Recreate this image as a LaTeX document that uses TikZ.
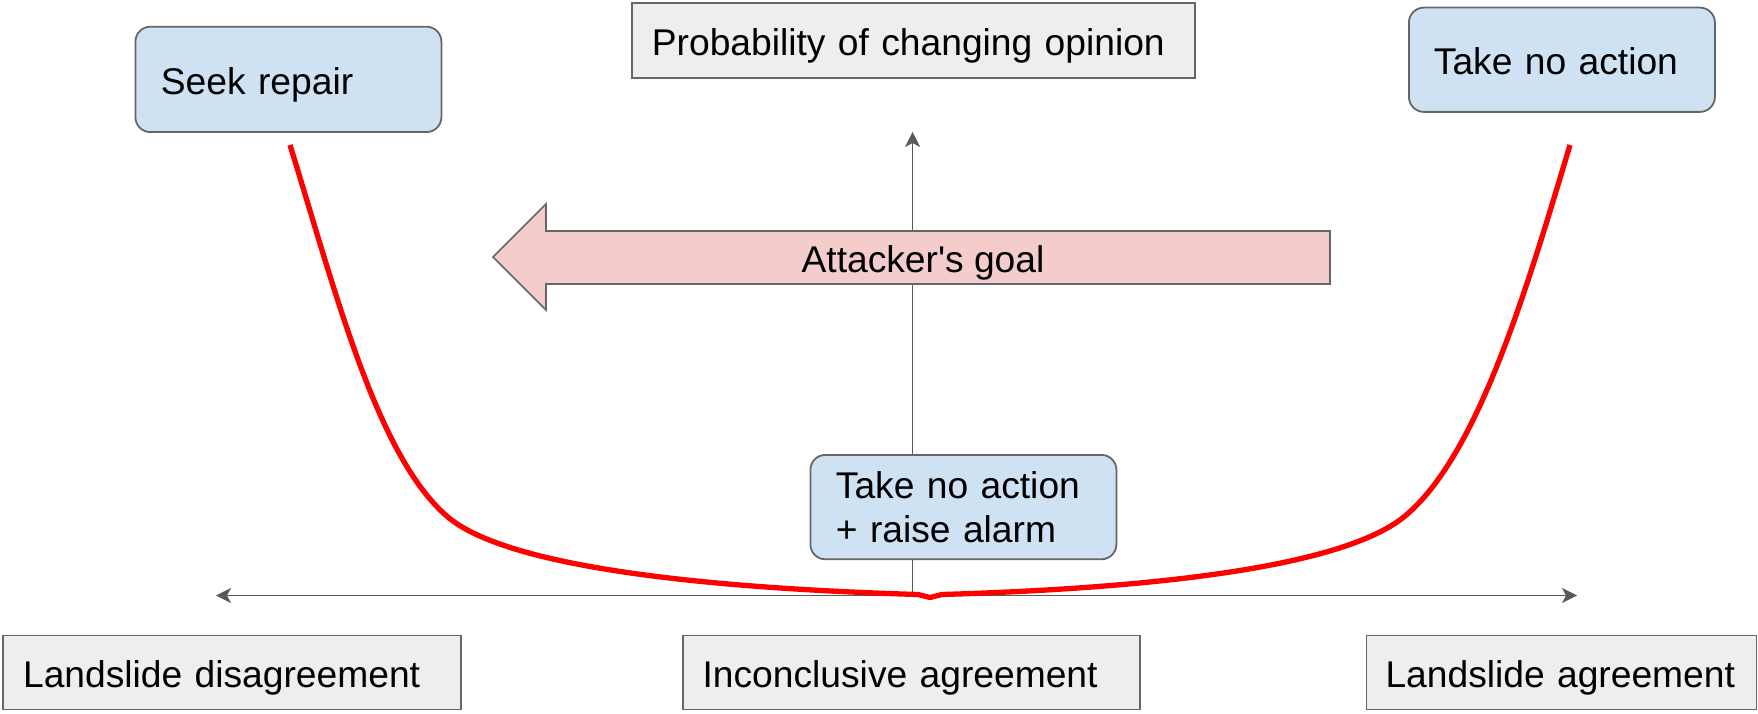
\documentclass[tikz,border=0pt]{standalone}
\usepackage{fontspec}
\newfontfamily\labelfont{Liberation Sans}[Ligatures=TeXOff]
\usetikzlibrary{arrows.meta}
\definecolor{choicefill}{HTML}{CFE2F3}
\definecolor{catfill}{HTML}{EEEEEE}
\definecolor{goalfill}{HTML}{F4CCCC}
\definecolor{edge}{HTML}{666666}
\definecolor{axiscol}{HTML}{595959}
\definecolor{curvecol}{HTML}{FF0000}
\tikzset{
  txt/.style={font=\labelfont\fontsize{37.2}{44}\selectfont, text=black},
  oneline/.style={text height=30pt, text depth=0pt},
  labelbox/.style={txt, draw=edge, line width=1.8pt, anchor=north west,
    align=left, inner ysep=0pt},
  choicebox/.style={labelbox, fill=choicefill, rounded corners=15pt},
  catbox/.style={labelbox, oneline, fill=catfill},
  axisline/.style={draw=axiscol, line width=1.6pt,
    >={Stealth[length=15pt, width=15pt, inset=4pt]}},
  goalarrow/.style={draw=edge, line width=1.6pt, fill=goalfill, line join=miter},
  curve/.style={draw=curvecol, line width=5.3pt, line join=round},
}
\begin{document}
\begin{tikzpicture}[x=1pt, y=-1pt]
\useasboundingbox (0,0) rectangle (1758,714);
\fill[white] (0,0) rectangle (1758,714);

% axes
\coordinate (xleft) at (216,595.5);
\coordinate (xright) at (1577,595.5);
\coordinate (origin) at (912.6,595.5);
\coordinate (ytop) at (912.6,132);
\draw[axisline, <->] (xleft) -- (xright);
\draw[axisline, ->] (origin) -- (ytop);

% attacker's goal arrow
\draw[goalarrow] (493,257) -- (546,204) -- (546,231) -- (1330,231)
  -- (1330,284) -- (546,284) -- (546,310) -- cycle;
\node[txt, oneline, inner sep=0pt] (goal) at (923,257.5) {Attacker's goal};

% axis labels
\node[catbox, minimum width=563pt, minimum height=75.2pt, inner xsep=20pt, text width=523pt]
  (prob) at (631,2.2) {Probability of changing opinion};
\node[catbox, minimum width=457.5pt, minimum height=74pt, inner xsep=20pt, text width=417.5pt]
  (disagree) at (2.2,634.6) {Landslide disagreement};
\node[catbox, minimum width=457.3pt, minimum height=74pt, inner xsep=20pt, text width=417.3pt]
  (inconcl) at (681.7,634.6) {Inconclusive agreement};
\node[catbox, minimum width=390pt, minimum height=74pt, inner xsep=19pt, text width=352pt]
  (agree) at (1365.6,634.6) {Landslide agreement};

% responses
\node[choicebox, oneline, minimum width=306pt, minimum height=105.4pt, inner xsep=25.5pt, text width=255pt]
  (repair) at (134.5,25.8) {Seek repair};
\node[choicebox, oneline, minimum width=306pt, minimum height=104.3pt, inner xsep=25pt, text width=256pt]
  (noaction) at (1408,6.7) {Take no action};
\node[choicebox, minimum width=306pt, minimum height=104.4pt, inner xsep=25.5pt, text width=255pt]
  (alarm) at (809.5,454) {Take no action\\+ raise alarm};

% response curve
\coordinate (cleft) at (290,145);
\coordinate (kneeleft) at (447.5,516.7);
\coordinate (botleft) at (918,594.5);
\coordinate (notch) at (930,597.5);
\coordinate (botright) at (942,594.5);
\coordinate (kneeright) at (1405,516);
\coordinate (cright) at (1570,145);
\draw[curve] (cleft) .. controls (336.5,295) and (377.3,456.7) .. (kneeleft)
  .. controls (500,561.7) and (668,587) .. (botleft) -- (notch) -- (botright)
  .. controls (1192,587) and (1351,561) .. (kneeright)
  .. controls (1477,456) and (1525,295) .. (cright);
\end{tikzpicture}
\end{document}
